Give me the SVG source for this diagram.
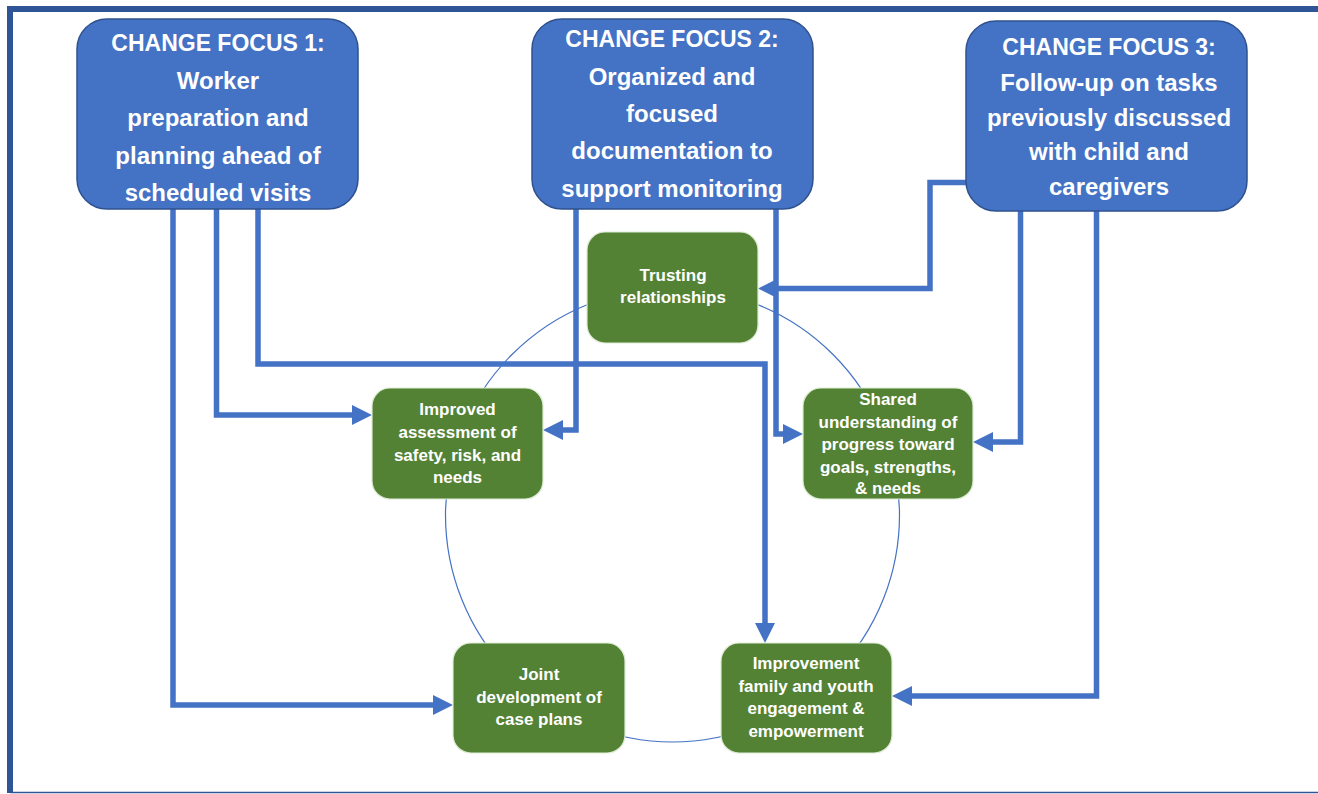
<svg xmlns="http://www.w3.org/2000/svg" width="1318" height="794" viewBox="0 0 1318 794">
<style>
.frame{fill:none;stroke:#2F5597;stroke-width:6}
.focus{fill:#4472C4;stroke:#2F528F;stroke-width:1.5}
.out{fill:#548235;stroke:#DDEBD3;stroke-width:1.2}
.ft{font-family:"Liberation Sans",Arial,sans-serif;font-weight:bold;font-size:24px;fill:#fff;text-anchor:middle}
.fh{font-size:23px}
.gt{font-family:"Liberation Sans",Arial,sans-serif;font-weight:bold;font-size:17px;fill:#fff;text-anchor:middle}
.conn{fill:none;stroke:#4472C4;stroke-width:5.5;stroke-linejoin:miter}
.cyc{fill:none;stroke:#4472C4;stroke-width:1.2}
</style>
<defs>
<marker id="ah" markerUnits="userSpaceOnUse" markerWidth="20" markerHeight="20" viewBox="0 0 20 20" refX="10" refY="10" orient="auto">
<path d="M0,0 L20,10 L0,20 z" fill="#4472C4"/>
</marker>
</defs>
<rect width="1318" height="794" fill="#fff"/>
<g id="frame">
<path class="frame" d="M10,793 L10,9 L1318,9"/>
<line x1="10" y1="792.5" x2="1318" y2="792.5" stroke="#2F5597" stroke-width="1.5"/>
</g>
<circle class="cyc" cx="672.5" cy="515" r="227"/>
<g id="connectors">
<path class="conn" d="M173,209 L173,705 L443,705" marker-end="url(#ah)"/>
<path class="conn" d="M216.5,209 L216.5,415 L362,415" marker-end="url(#ah)"/>
<path class="conn" d="M258,209 L258,364 L765,364 L765,633" marker-end="url(#ah)"/>
<path class="conn" d="M576,209 L576,430 L553,430" marker-end="url(#ah)"/>
<path class="conn" d="M776,209 L776,434 L793,434" marker-end="url(#ah)"/>
<path class="conn" d="M966,182.5 L930,182.5 L930,288.5 L768,288.5" marker-end="url(#ah)"/>
<path class="conn" d="M1020.5,211 L1020.5,442 L983,442" marker-end="url(#ah)"/>
<path class="conn" d="M1096.5,211 L1096.5,696 L902,696" marker-end="url(#ah)"/>
</g>
<g id="focus1">
<rect class="focus" x="77" y="19" width="281" height="190" rx="30"/>
<text class="ft fh" x="218" y="51">CHANGE FOCUS 1:</text>
<text class="ft" x="218" y="88.5">Worker</text>
<text class="ft" x="218" y="126">preparation and</text>
<text class="ft" x="218" y="163.5">planning ahead of</text>
<text class="ft" x="218" y="201">scheduled visits</text>
</g>
<g id="focus2">
<rect class="focus" x="532" y="19" width="281" height="190" rx="30"/>
<text class="ft fh" x="672" y="47">CHANGE FOCUS 2:</text>
<text class="ft" x="672" y="85">Organized and</text>
<text class="ft" x="672" y="122">focused</text>
<text class="ft" x="672" y="159">documentation to</text>
<text class="ft" x="672" y="197">support monitoring</text>
</g>
<g id="focus3">
<rect class="focus" x="966" y="21" width="281" height="190" rx="30"/>
<text class="ft fh" x="1109" y="55">CHANGE FOCUS 3:</text>
<text class="ft" x="1109" y="91">Follow-up on tasks</text>
<text class="ft" x="1109" y="125.5">previously discussed</text>
<text class="ft" x="1109" y="160">with child and</text>
<text class="ft" x="1109" y="195">caregivers</text>
</g>
<g id="trusting">
<rect class="out" x="587" y="232" width="171" height="111" rx="18"/>
<text class="gt" x="673" y="281">Trusting</text>
<text class="gt" x="673" y="303">relationships</text>
</g>
<g id="assessment">
<rect class="out" x="372" y="388" width="171" height="111" rx="18"/>
<text class="gt" x="457.5" y="415">Improved</text>
<text class="gt" x="457.5" y="438">assessment of</text>
<text class="gt" x="457.5" y="460.5">safety, risk, and</text>
<text class="gt" x="457.5" y="483">needs</text>
</g>
<g id="shared">
<rect class="out" x="803" y="388" width="170" height="111" rx="18"/>
<text class="gt" x="888" y="405">Shared</text>
<text class="gt" x="888" y="427.5">understanding of</text>
<text class="gt" x="888" y="450">progress toward</text>
<text class="gt" x="888" y="472.5">goals, strengths,</text>
<text class="gt" x="888" y="494">&amp; needs</text>
</g>
<g id="joint">
<rect class="out" x="453" y="643" width="172" height="110" rx="18"/>
<text class="gt" x="539" y="680">Joint</text>
<text class="gt" x="539" y="702.5">development of</text>
<text class="gt" x="539" y="725">case plans</text>
</g>
<g id="engagement">
<rect class="out" x="721" y="643" width="171" height="110" rx="18"/>
<text class="gt" x="806" y="669">Improvement</text>
<text class="gt" x="806" y="691.5">family and youth</text>
<text class="gt" x="806" y="714">engagement &amp;</text>
<text class="gt" x="806" y="736.5">empowerment</text>
</g>
</svg>
